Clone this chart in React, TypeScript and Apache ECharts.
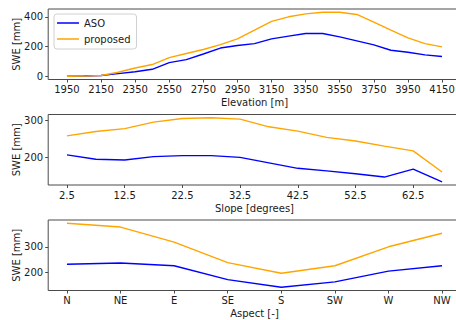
import React, { useEffect, useRef } from "react";
import * as echarts from "echarts";

const elevations = [1950, 2050, 2150, 2250, 2350, 2450, 2550, 2650, 2750, 2850, 2950, 3050, 3150, 3250, 3350, 3450, 3550, 3650, 3750, 3850, 3950, 4050, 4150];
const asoElevation = [0, 2, 5, 18, 31, 47, 92, 112, 150, 190, 207, 220, 252, 270, 288, 288, 265, 238, 211, 175, 162, 144, 133];
const proposedElevation = [0, 1, 5, 27, 56, 79, 126, 153, 180, 213, 252, 310, 369, 400, 420, 431, 431, 416, 364, 310, 258, 220, 198];
const elevationTicks = [1950, 2150, 2350, 2550, 2750, 2950, 3150, 3350, 3550, 3750, 3950, 4150];
const elevationYTicks = [0, 200, 400];

const slopes = [2.5, 7.5, 12.5, 17.5, 22.5, 27.5, 32.5, 37.5, 42.5, 47.5, 52.5, 57.5, 62.5, 67.5];
const asoSlope = [206, 194, 192, 201, 204, 204, 199, 184, 169, 162, 154, 145, 167, 132];
const proposedSlope = [258, 270, 278, 296, 306, 308, 304, 283, 271, 254, 244, 230, 217, 159];
const slopeTicks = [2.5, 12.5, 22.5, 32.5, 42.5, 52.5, 62.5];
const slopeYTicks = [200, 300];

const aspects = ["N", "NE", "E", "SE", "S", "SW", "W", "NW"];
const asoAspect = [232, 237, 226, 172, 142, 163, 205, 226];
const proposedAspect = [392, 377, 318, 238, 197, 226, 300, 353];
const aspectYTicks = [200, 300];

const FONT = "DejaVu Sans";
const FS = 10;
const TEXT = "#1a1a1a";
const SPINE = "#4a4a4a";
const BLUE = "#0000ff";
const ORANGE = "#ffa500";

function pad(vals: number[]) {
  const lo = Math.min(...vals);
  const hi = Math.max(...vals);
  const m = (hi - lo) * 0.05;
  return [lo - m, hi + m];
}

export default function App() {
  const ref = useRef<HTMLDivElement>(null);
  useEffect(() => {
    if (!ref.current) return;
    const chart = echarts.init(ref.current, undefined, { renderer: "svg" });

    const gridBase = {
      left: 48.2,
      width: 412.6,
      height: 70.5,
      show: true,
      borderColor: SPINE,
      borderWidth: 1,
      backgroundColor: "transparent",
      containLabel: false,
      outerBoundsMode: "none",
    };
    const tops = [9, 114.5, 220];

    const xDefs = [
      { x: elevations, ticks: elevationTicks, name: "Elevation [m]", fmt: (v: number) => String(v) },
      { x: slopes, ticks: slopeTicks, name: "Slope [degrees]", fmt: (v: number) => String(v) },
      { x: aspects.map((_, i) => i), ticks: aspects.map((_, i) => i), name: "Aspect [-]", fmt: (v: number) => aspects[Math.round(v)] ?? "" },
    ];
    const yDefs = [
      { vals: asoElevation.concat(proposedElevation), ticks: elevationYTicks },
      { vals: asoSlope.concat(proposedSlope), ticks: slopeYTicks },
      { vals: asoAspect.concat(proposedAspect), ticks: aspectYTicks },
    ];
    const seriesData = [
      [asoElevation, proposedElevation],
      [asoSlope, proposedSlope],
      [asoAspect, proposedAspect],
    ];

    const xAxis = xDefs.map((d, i) => {
      const [mn, mx] = pad(d.x);
      return {
        type: "value",
        gridIndex: i,
        min: mn,
        max: mx,
        name: d.name,
        nameLocation: "middle",
        nameGap: 18,
        nameMoveOverlap: false,
        nameTextStyle: { fontFamily: FONT, fontSize: FS, color: TEXT },
        axisLine: { show: false, onZero: false },
        splitLine: { show: false },
        axisTick: { show: true, length: 3, lineStyle: { color: SPINE, width: 1 }, customValues: d.ticks },
        axisLabel: { show: true, margin: 5, hideOverlap: false, fontFamily: FONT, fontSize: FS, color: TEXT, customValues: d.ticks, formatter: d.fmt },
      };
    });

    const yAxis = yDefs.map((d, i) => {
      const [mn, mx] = pad(d.vals);
      return {
        type: "value",
        gridIndex: i,
        min: mn,
        max: mx,
        name: "SWE [mm]",
        nameLocation: "middle",
        nameRotate: 90,
        nameGap: 26.5,
        nameMoveOverlap: false,
        nameTextStyle: { fontFamily: FONT, fontSize: FS, color: TEXT },
        axisLine: { show: false, onZero: false },
        splitLine: { show: false },
        axisTick: { show: true, length: 3, lineStyle: { color: SPINE, width: 1 }, customValues: d.ticks },
        axisLabel: { show: true, margin: 5, hideOverlap: false, fontFamily: FONT, fontSize: FS, color: TEXT, customValues: d.ticks },
      };
    });

    const series: any[] = [];
    seriesData.forEach((pair, i) => {
      const xs = xDefs[i].x;
      ["ASO", "proposed"].forEach((name, k) => {
        series.push({
          type: "line",
          name,
          xAxisIndex: i,
          yAxisIndex: i,
          data: pair[k].map((v, j) => [xs[j], v]),
          symbol: "none",
          showSymbol: false,
          lineStyle: { color: k === 0 ? BLUE : ORANGE, width: 1.4 },
          itemStyle: { color: k === 0 ? BLUE : ORANGE },
          clip: true,
        });
      });
    });

    chart.setOption({
      animation: false,
      backgroundColor: "#ffffff",
      grid: tops.map((t) => ({ ...gridBase, top: t })),
      xAxis,
      yAxis,
      series,
      legend: {
        show: true,
        orient: "vertical",
        left: 54,
        top: 14,
        data: ["ASO", "proposed"],
        icon: "rect",
        itemWidth: 22,
        itemHeight: 1.5,
        itemGap: 4,
        itemTextGap: 7,
        padding: [3, 6, 4, 3],
        borderColor: "#d0d0d0",
        borderWidth: 1,
        borderRadius: 3,
        backgroundColor: "rgba(255,255,255,0.8)",
        textStyle: { fontFamily: FONT, fontSize: FS, color: TEXT, lineHeight: 12 },
        selectedMode: false,
      },
    });
    return () => chart.dispose();
  }, []);

  return <div ref={ref} style={{ position: "fixed", left: 0, top: 0, width: 456, height: 320 }} />;
}
